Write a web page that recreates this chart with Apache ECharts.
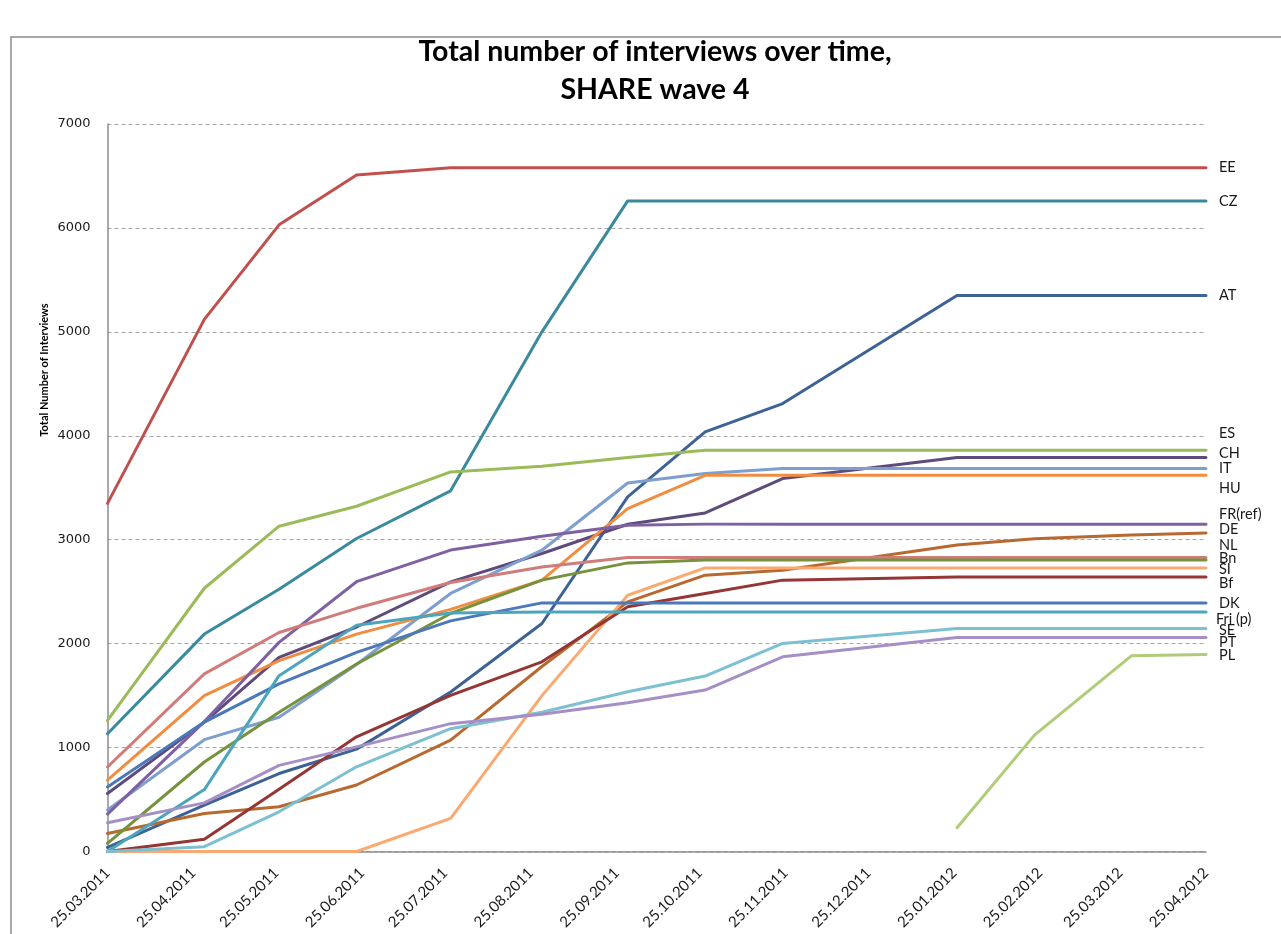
<!DOCTYPE html>
<html>
<head>
<meta charset="utf-8">
<title>Total number of interviews over time, SHARE wave 4</title>
<script src="https://cdn.jsdelivr.net/npm/echarts@6/dist/echarts.min.js"></script>
<style>
  html, body { margin: 0; padding: 0; background: #ffffff; }
  #chart { width: 1281px; height: 934px; }
</style>
</head>
<body>
<div id="chart"></div>
<script>
// Fieldwork progress: cumulative interviews per country at each reporting date
const countries = ['EE', 'CZ', 'AT', 'ES', 'CH', 'IT', 'HU', 'FR(ref)', 'DE', 'NL', 'Bn', 'SI', 'Bf', 'DK', 'Fri (p)', 'SE', 'PT', 'PL'];

// Reporting dates (one value per date in each country array)
const reportDates = ['2011-03-25', '2011-04-29', '2011-05-26', '2011-06-23', '2011-07-27', '2011-08-29', '2011-09-29',
                     '2011-10-27', '2011-11-24', '2012-01-26', '2012-02-23', '2012-03-29', '2012-04-25'];

// Monthly axis labels
const monthTicks = ['2011-03-25', '2011-04-25', '2011-05-25', '2011-06-25', '2011-07-25', '2011-08-25', '2011-09-25',
                    '2011-10-25', '2011-11-25', '2011-12-25', '2012-01-25', '2012-02-25', '2012-03-25', '2012-04-25'];

const EE     = [3350, 5120, 6030, 6510, 6580, 6580, 6580, 6580, 6580, 6580, 6580, 6580, 6580];
const CZ     = [1133, 2092, 2523, 3012, 3470, 5000, 6260, 6260, 6260, 6260, 6260, 6260, 6260];
const AT     = [40, 446, 750, 985, 1534, 2194, 3412, 4037, 4310, 5350, 5350, 5350, 5350];
const ES     = [1261, 2533, 3130, 3322, 3652, 3707, 3790, 3860, 3860, 3860, 3860, 3860, 3860];
const CH     = [558, 1245, 1868, 2160, 2594, 2867, 3149, 3258, 3588, 3790, 3790, 3790, 3790];
const IT     = [400, 1076, 1292, 1800, 2483, 2899, 3546, 3637, 3685, 3685, 3685, 3685, 3685];
const HU     = [686, 1500, 1836, 2092, 2330, 2611, 3300, 3620, 3620, 3620, 3620, 3620, 3620];
const FR_ref = [360, 1250, 2012, 2596, 2900, 3034, 3139, 3150, 3150, 3150, 3150, 3150, 3150];
const DE     = [174, 366, 430, 640, 1071, 1780, 2402, 2659, 2707, 2950, 3010, 3045, 3065];
const NL     = [813, 1709, 2107, 2340, 2589, 2738, 2829, 2830, 2830, 2830, 2830, 2830, 2830];
const Bn     = [79, 861, 1340, 1804, 2290, 2611, 2777, 2805, 2805, 2805, 2805, 2805, 2805];
const SI     = [0, 0, 0, 0, 319, 1500, 2466, 2729, 2729, 2729, 2729, 2729, 2729];
const Bf     = [0, 117, 600, 1103, 1502, 1825, 2354, 2483, 2611, 2642, 2642, 2642, 2642];
const DK     = [621, 1245, 1613, 1916, 2219, 2392, 2392, 2392, 2392, 2392, 2392, 2392, 2392];
const Fri_p  = [0, 596, 1692, 2178, 2295, 2305, 2305, 2305, 2305, 2305, 2305, 2305, 2305];
const SE     = [0, 46, 382, 815, 1182, 1340, 1537, 1688, 2002, 2146, 2146, 2146, 2146];
const PT     = [276, 468, 829, 1007, 1230, 1320, 1431, 1553, 1873, 2060, 2060, 2060, 2060];
const PL     = [null, null, null, null, null, null, null, null, null, 229, 1120, 1883, 1896];

const yMin = 0, yMax = 7000, yStep = 1000;

const values = [EE, CZ, AT, ES, CH, IT, HU, FR_ref, DE, NL, Bn, SI, Bf, DK, Fri_p, SE, PT, PL];

const colors = ['#C0504D', '#3A8A9E', '#3D6396', '#9BBB59', '#5E4B7C', '#7E9ECE', '#F08D40', '#7E60A3', '#B8692F',
                '#D07C7A', '#76923C', '#FBA971', '#943634', '#4A78B8', '#4BA5BD', '#7CC0D2', '#A58FC6', '#AFCD78'];

// vertical nudge of the country names at the right end, so they do not collide
const nameShift = { 'ES': -17, 'CH': -4, 'HU': 13, 'FR(ref)': -10, 'DE': -4, 'NL': -12, 'Bn': -2, 'SI': 1,
                    'Bf': 6, 'Fri (p)': 7, 'SE': 2, 'PT': 5, 'PL': 1 };

const DAY = 86400000;
function ts(d) {
  const p = d.split('-').map(Number);
  return Date.UTC(p[0], p[1] - 1, p[2]);
}
const origin = ts(monthTicks[0]);
// days elapsed since the first axis date
function dayOf(d) { return Math.round((ts(d) - origin) / DAY); }
function pad(n) { return (n < 10 ? '0' : '') + n; }
function fmtDay(v) {
  const d = new Date(origin + Math.round(v) * DAY);
  return pad(d.getUTCDate()) + '.' + pad(d.getUTCMonth() + 1) + '.' + d.getUTCFullYear();
}

const tickDays = monthTicks.map(dayOf);

const series = countries.map((name, i) => ({
  name: name,
  type: 'line',
  showSymbol: false,
  symbol: 'none',
  connectNulls: false,
  lineStyle: { width: 3, color: colors[i], join: 'round', cap: 'round' },
  itemStyle: { color: colors[i] },
  emphasis: { disabled: true },
  data: reportDates.map((d, k) => [dayOf(d), values[i][k]]),
  endLabel: {
    show: true,
    formatter: '{a}',
    distance: name === 'Fri (p)' ? 10 : 13,
    offset: [0, nameShift[name] || 0],
    color: '#1a1a1a',
    fontFamily: 'Lato',
    fontSize: 14.5
  }
}));

const chart = echarts.init(document.getElementById('chart'), null, { renderer: 'canvas' });

chart.setOption({
  animation: false,
  backgroundColor: '#ffffff',
  title: {
    text: 'Total number of interviews over time,\nSHARE wave 4',
    left: 650,
    top: 28,
    padding: 5,
    textAlign: 'center',
    textStyle: {
      fontFamily: 'Lato',
      fontWeight: 'bold',
      fontSize: 28.5,
      lineHeight: 38,
      color: '#000000'
    }
  },
  graphic: [
    {
      type: 'rect',
      silent: true,
      shape: { x: 11, y: 37, width: 1400, height: 1000 },
      style: { fill: 'none', stroke: '#8c8c8c', lineWidth: 1.5 },
      z: -1
    },
    {
      type: 'text',
      silent: true,
      x: 44,
      y: 370,
      rotation: Math.PI / 2,
      style: {
        text: 'Total Number of Interviews',
        fontFamily: 'Lato',
        fontWeight: 'bold',
        fontSize: 11,
        fill: '#000000',
        align: 'center',
        verticalAlign: 'middle'
      }
    }
  ],
  grid: { left: 107.5, right: 75, top: 124, bottom: 82.5, containLabel: false },
  xAxis: {
    type: 'value',
    min: tickDays[0],
    max: tickDays[tickDays.length - 1],
    axisLine: { show: true, lineStyle: { color: '#8c8c8c', width: 1.5 } },
    axisTick: { show: false },
    splitLine: { show: false },
    axisLabel: {
      customValues: tickDays,
      formatter: fmtDay,
      rotate: 45,
      margin: 19,
      color: '#1a1a1a',
      fontFamily: 'Lato',
      fontSize: 15,
      hideOverlap: false
    }
  },
  yAxis: {
    type: 'value',
    min: yMin,
    max: yMax,
    interval: yStep,
    axisLine: { show: true, lineStyle: { color: '#8c8c8c', width: 1.5 } },
    axisTick: { show: false },
    splitLine: { show: true, lineStyle: { color: '#a6a6a6', width: 1, type: [4, 3] } },
    axisLabel: {
      margin: 17,
      color: '#1a1a1a',
      fontFamily: 'DejaVu Sans',
      fontSize: 13,
      formatter: (v) => String(v)
    }
  },
  series: series
});
</script>
</body>
</html>
